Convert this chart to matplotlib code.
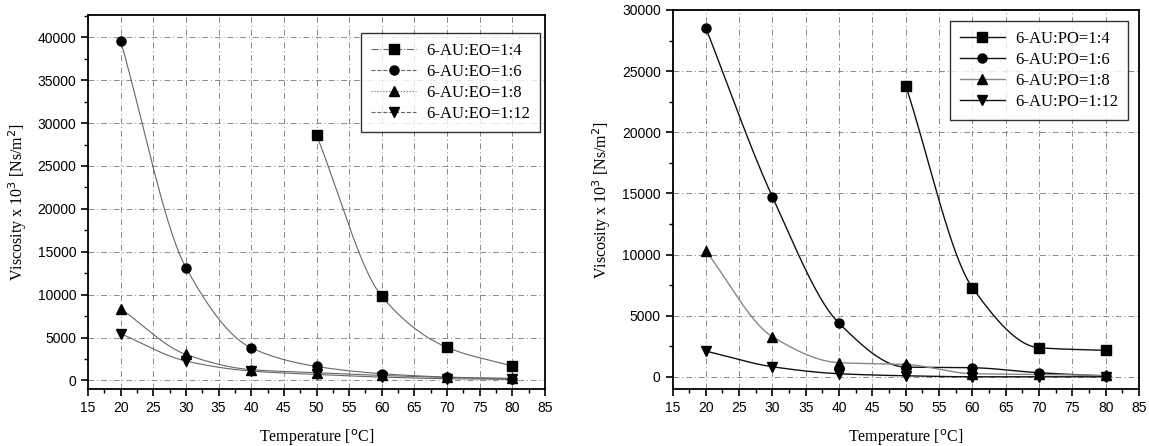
import numpy as np
import matplotlib
matplotlib.use("Agg")
import matplotlib.pyplot as plt
from matplotlib.ticker import MultipleLocator

# ---- data ----
temps = [20, 30, 40, 50, 60, 70, 80]
temps_14 = [50, 60, 70, 80]

eo_labels = ["6-AU:EO=1:4", "6-AU:EO=1:6", "6-AU:EO=1:8", "6-AU:EO=1:12"]
eo_1_4 = [28600, 9800, 3850, 1670]
eo_1_6 = [39570, 13150, 3800, 1630, 780, 390, 200]
eo_1_8 = [8370, 3030, 1250, 900, 580, 350, 230]
eo_1_12 = [5450, 2260, 1090, 700, 390, 200, 120]

po_labels = ["6-AU:PO=1:4", "6-AU:PO=1:6", "6-AU:PO=1:8", "6-AU:PO=1:12"]
po_1_4 = [23800, 7290, 2375, 2160]
po_1_6 = [28530, 14710, 4370, 790, 740, 330, 60]
po_1_8 = [10290, 3280, 1150, 1010, 250, 190, 110]
po_1_12 = [2100, 820, 250, 80, 0, 0, 0]

x_label = "Temperature [$^{\\mathrm{o}}$C]"
y_label = "Viscosity x 10$^{\\mathrm{3}}$ [Ns/m$^{\\mathrm{2}}$]"


def smooth(x, y, n=200):
    """Monotone cubic Hermite curve through the data points (for drawing)."""
    x = np.asarray(x, float)
    y = np.asarray(y, float)
    h = np.diff(x)
    d = np.diff(y) / h
    m = np.zeros_like(y)
    for k in range(1, len(x) - 1):
        if d[k - 1] * d[k] > 0:
            w1 = 2 * h[k] + h[k - 1]
            w2 = h[k] + 2 * h[k - 1]
            m[k] = (w1 + w2) / (w1 / d[k - 1] + w2 / d[k])
    m[0] = d[0]
    m[-1] = d[-1]
    xs = np.linspace(x[0], x[-1], n)
    idx = np.clip(np.searchsorted(x, xs) - 1, 0, len(x) - 2)
    t = (xs - x[idx]) / h[idx]
    h00 = 2 * t**3 - 3 * t**2 + 1
    h10 = t**3 - 2 * t**2 + t
    h01 = -2 * t**3 + 3 * t**2
    h11 = t**3 - t**2
    ys = h00 * y[idx] + h10 * h[idx] * m[idx] + h01 * y[idx + 1] + h11 * h[idx] * m[idx + 1]
    return xs, ys


serif = ["Liberation Serif", "DejaVu Serif"]
sans = ["Liberation Sans", "DejaVu Sans"]

fig = plt.figure(figsize=(11.49, 4.46), dpi=100)
axL = fig.add_axes([88 / 1149, 1 - 389 / 446, (545 - 88) / 1149, (389 - 15) / 446])
axR = fig.add_axes([672.5 / 1149, 1 - 389 / 446, (1139 - 672.5) / 1149, (389 - 10) / 446])

markers = ["s", "o", "^", "v"]


def draw(ax, series, labels, colors, lss, ylim, lw, anchor):
    for (xv, yv), lab, mk, c, ls in zip(series, labels, markers, colors, lss):
        xs, ys = smooth(xv, yv)
        ax.plot(xs, ys, color=c, lw=lw, ls="-", zorder=2)
        ax.plot(xv, yv, ls="none", marker=mk, ms=6.5, color="black", zorder=3)
        ax.plot([], [], color=c, lw=lw, ls=ls, marker=mk, ms=6.5,
                mfc="black", mec="black", label=lab)
    ax.set_xlim(15, 85)
    ax.set_ylim(*ylim)
    ax.xaxis.set_major_locator(MultipleLocator(5))
    ax.xaxis.set_minor_locator(MultipleLocator(2.5))
    ax.yaxis.set_major_locator(MultipleLocator(5000))
    ax.yaxis.set_minor_locator(MultipleLocator(2500))
    ax.grid(True, which="major", ls=(0, (6, 3, 1, 3)), color="#8a8a8a", lw=0.7)
    ax.tick_params(which="major", direction="out", length=5, width=1.2,
                   labelsize=10, top=False, right=False)
    ax.tick_params(which="minor", direction="out", length=3, width=1.0,
                   top=False, right=False)
    for lbl in ax.get_xticklabels() + ax.get_yticklabels():
        lbl.set_fontfamily(sans)
    for s in ax.spines.values():
        s.set_linewidth(1.3)
    ax.set_xlabel(x_label, fontsize=11.5, family=serif, labelpad=9)
    ax.set_ylabel(y_label, fontsize=11.5, family=serif, labelpad=6)
    leg = ax.legend(loc="upper right", bbox_to_anchor=anchor,
                    prop={"family": serif, "size": 12},
                    frameon=True, fancybox=False, edgecolor="black",
                    handlelength=2.7, handletextpad=0.6, labelspacing=0.3,
                    borderpad=0.6, borderaxespad=0.0)
    leg.get_frame().set_linewidth(1.0)
    return leg


eo_series = [(temps_14, eo_1_4), (temps, eo_1_6), (temps, eo_1_8), (temps, eo_1_12)]
po_series = [(temps_14, po_1_4), (temps, po_1_6), (temps, po_1_8), (temps, po_1_12)]

draw(axL, eo_series, eo_labels, ["#666666"] * 4,
     ["-.", "--", ":", "--"], (-1000, 42600), 0.8, (0.989, 0.952))
draw(axR, po_series, po_labels, ["#111111", "#111111", "#888888", "#111111"],
     ["-", "-", "-", "-"], (-1000, 30000), 1.0, (0.976, 0.971))

fig.savefig("out.png", dpi=100)
